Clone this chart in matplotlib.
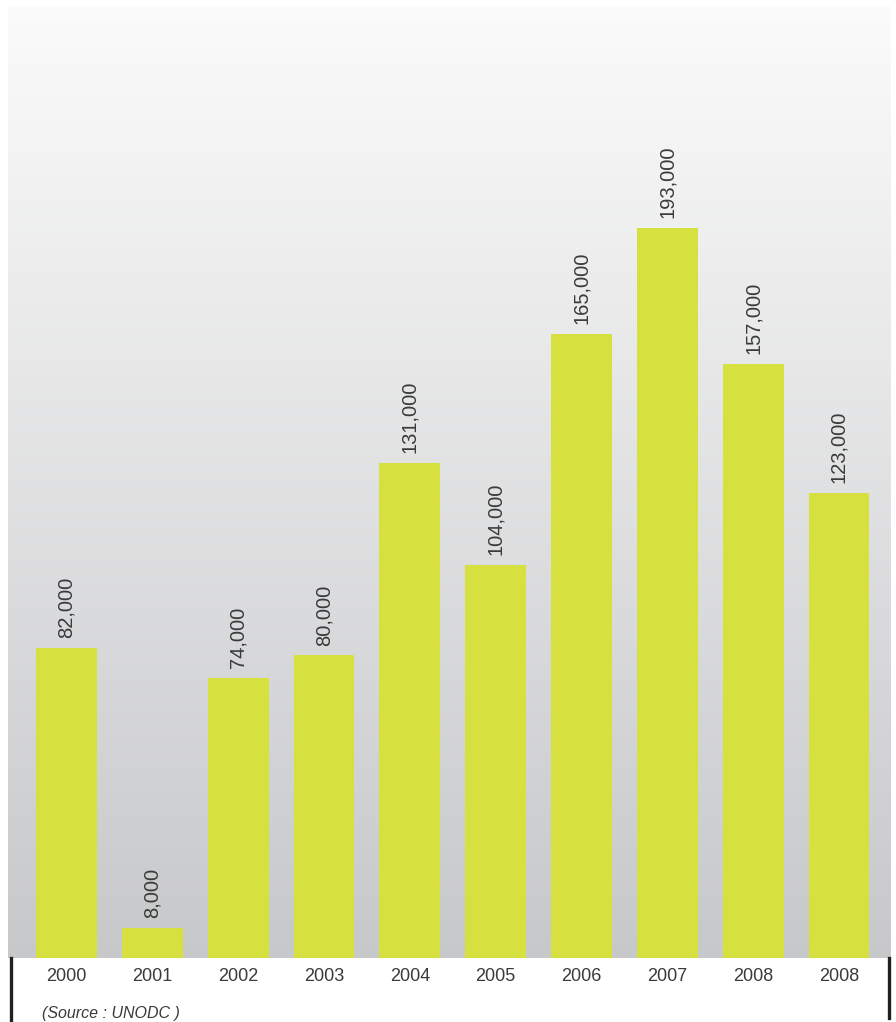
import numpy as np
import matplotlib.pyplot as plt
from matplotlib.lines import Line2D
from matplotlib.colors import LinearSegmentedColormap

plt.rcParams['font.family'] = ['Liberation Sans', 'DejaVu Sans']

# data
years = ['2000', '2001', '2002', '2003', '2004', '2005', '2006', '2007', '2008', '2008']
values = [82000, 8000, 74000, 80000, 131000, 104000, 165000, 193000, 157000, 123000]
value_labels = ['82,000', '8,000', '74,000', '80,000', '131,000', '104,000',
                '165,000', '193,000', '157,000', '123,000']

W, H = 896, 1022
fig = plt.figure(figsize=(W / 100, H / 100), dpi=100)
fig.patch.set_facecolor('white')

# axes box in pixels: left 8, right 891, top 6, bottom 958
ax = fig.add_axes([8 / W, 1 - 958 / H, (891 - 8) / W, (958 - 6) / H])
ax.set_xlim(-0.682, 9.606)
ax.set_ylim(0, 251700)

# grey background gradient
cmap = LinearSegmentedColormap.from_list('bg', ['#c7c8ca', '#fbfbfb'])
grad = np.linspace(0, 1, 256).reshape(-1, 1)
ax.imshow(grad, cmap=cmap, aspect='auto', origin='lower',
          extent=[-0.682, 9.606, 0, 251700], zorder=0)

x = np.arange(len(values))
ax.bar(x, values, width=0.71, color='#d6e03f', zorder=2)

for xi, v, lab in zip(x, values, value_labels):
    ax.annotate(lab, (xi, v), xytext=(0, 7), textcoords='offset points',
                rotation=90, ha='center', va='bottom', fontsize=14.5,
                color='#3a3a3a', zorder=3)

for s in ax.spines.values():
    s.set_visible(False)
ax.set_xticks([])
ax.set_yticks([])

# year labels under the panel
for xi, yr in zip(x, years):
    ax.text(xi, -18 / 952 * 251700, yr, ha='center', va='center',
            fontsize=13, color='#3a3a3a')

# black side lines below the panel
fig.add_artist(Line2D([10.5 / W, 10.5 / W], [0, 1 - 958 / H],
                      color='#231f20', lw=2.4, transform=fig.transFigure))
fig.add_artist(Line2D([889 / W, 889 / W], [4 / H, 1 - 958 / H],
                      color='#231f20', lw=2.4, transform=fig.transFigure))

fig.text(42 / W, 1 - 1013 / H, '(Source : UNODC )', ha='left', va='center',
         fontsize=11.5, style='italic', color='#3a3a3a')

fig.savefig('out.png', dpi=100)
